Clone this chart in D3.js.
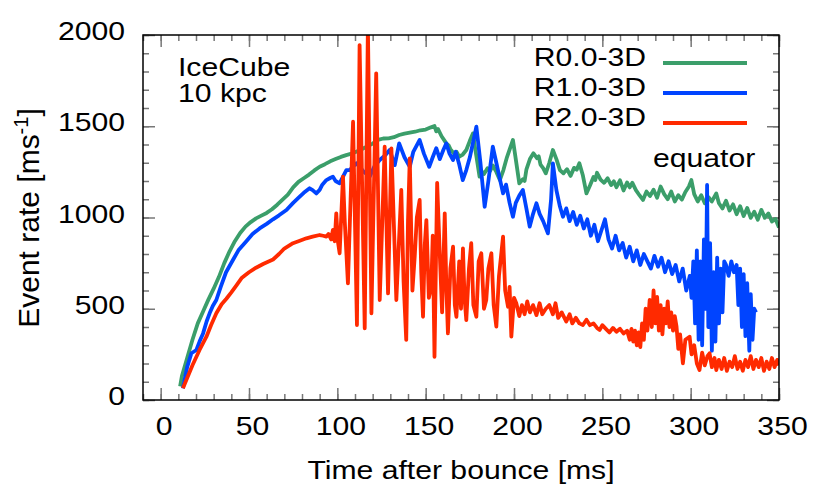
<!DOCTYPE html>
<html><head><meta charset="utf-8">
<script src="https://cdn.jsdelivr.net/npm/d3@7"></script>
<style>body{margin:0;background:#fff} text{font-family:"Liberation Sans",Arial,Helvetica,sans-serif;fill:#000}</style>
</head><body><svg id="c" width="830" height="498"></svg>
<script>
// ---- data (time after bounce [ms], event rate [ms^-1]) ----
const seriesR00 = [[11,75],[12,130],[15,230],[18,330],[21,420],[24,485],[27,550],[30,610],[33,675],[36,750],[39,815],[42,870],[45,915],[48,950],[51,975],[54,995],[57,1010],[60,1025],[63,1045],[66,1070],[69,1098],[72,1125],[75,1165],[78,1195],[81,1215],[84,1235],[87,1258],[90,1278],[93,1292],[96,1308],[99,1320],[102,1332],[105,1342],[108,1350],[111,1362],[114,1375],[117,1390],[120,1405],[123,1425],[126,1433],[129,1434],[132,1440],[135,1452],[138,1460],[141,1465],[144,1470],[147,1478],[150,1482],[153,1494],[155,1501],[156,1472],[157,1485],[159,1445],[161.7,1406],[163,1395],[164,1375],[166,1350],[167.5,1360],[169,1333],[171,1345],[173,1370],[175,1420],[176.8,1461],[178,1380],[180.5,1224],[182,1250],[183,1238],[185,1270],[186.5,1255],[188,1285],[190,1250],[192,1205],[194,1260],[196,1330],[199.4,1425],[201,1320],[203,1187],[205,1210],[206,1200],[207,1262],[209,1320],[211,1352],[213,1325],[214,1335],[215,1290],[216.5,1270],[218,1242],[220,1300],[222,1370],[224,1320],[226,1260],[228,1242],[230,1265],[232,1228],[234,1272],[235.5,1262],[237,1297],[239,1230],[241,1132],[243,1175],[245,1222],[246,1205],[247,1245],[249,1208],[251,1190],[253,1215],[255,1178],[256.5,1198],[258,1166],[260,1204],[262,1148],[264,1192],[265.5,1165],[267,1190],[269,1150],[271,1122],[273,1096],[275,1142],[277,1118],[279,1152],[281,1108],[283,1170],[285,1128],[287,1100],[289,1142],[291,1088],[293,1122],[295,1098],[297,1140],[299,1170],[300.4,1205],[302,1128],[304,1088],[306,1122],[308,1078],[310,1112],[312,1088],[314.5,1132],[316,1078],[318,1050],[320,1092],[322,1038],[324,1072],[326,1018],[328,1062],[330,1008],[332,1052],[334,998],[336,1032],[338,988],[340,1042],[342,998],[344,1022],[346,978],[348,992],[350,945]];

const seriesR10 = [[12.6,64],[15,180],[17.4,256],[20.2,274],[22,320],[24,365],[26,430],[27.7,475],[29.5,515],[31.5,548],[34,620],[37,700],[40.9,767],[44,820],[48.5,870],[52,910],[56,940],[60,965],[63.6,990],[67,1012],[71.2,1041],[75,1080],[78.7,1114],[81,1135],[84.3,1160],[86,1150],[88.1,1132],[90,1151],[91.5,1180],[93.8,1205],[95.7,1215],[97.5,1224],[99,1200],[101.3,1187],[103,1220],[105.1,1260],[107,1260],[109,1280],[110.8,1297],[112.6,1278],[115,1250],[118.3,1224],[121,1280],[124,1315],[127,1340],[129.6,1370],[132.5,1287],[135,1406],[138,1330],[141,1278],[143,1360],[146.6,1425],[149,1350],[152,1278],[154,1330],[156,1380],[158,1320],[160,1370],[161.7,1406],[163.5,1350],[165.5,1315],[167,1360],[169,1290],[171,1205],[173,1260],[175,1330],[177,1420],[178.7,1498],[181,1300],[183.4,1059],[185.5,1200],[188,1388],[190,1300],[191.8,1220],[193.8,1132],[195.5,1180],[197.5,1080],[199.4,1004],[201,1080],[203,1120],[205,1151],[207,1050],[208.9,950],[210.8,1020],[212.7,1078],[214.5,1020],[216.5,980],[219.2,913],[221,1100],[222,1297],[224,1150],[226,1060],[227.7,1004],[229.6,1050],[231.5,980],[233.5,1030],[235.5,960],[237.5,1010],[239.5,940],[241.5,990],[243.5,900],[245.5,960],[247.5,870],[249.5,930],[251.5,990],[253.5,880],[255.5,830],[257.5,900],[259.5,820],[261.5,860],[263.5,780],[265.5,840],[267.5,760],[269.5,820],[271.5,740],[273.5,800],[275.5,760],[277.5,720],[279.5,790],[281.5,730],[283.5,780],[285.5,700],[287.5,760],[289.5,690],[291.5,740],[293.5,650],[295.5,720],[297.5,600],[299.5,680],[300.5,560],[301.5,760],[302.5,420],[303.5,820],[304.5,330],[305.5,760],[306.5,300],[307.5,880],[308.5,500],[309.3,1178],[310,400],[311,860],[312,270],[313,700],[314,320],[315,780],[316,420],[317,720],[318,480],[319,760],[320,740],[321.5,680],[323,760],[324.5,700],[326,740],[327,520],[328,720],[329,400],[330,690],[331,350],[332,640],[333.2,270],[334,580],[335,330],[336,500],[337,480]];

const seriesR20 = [[12.6,64],[15,120],[18,190],[22,274],[25.9,347],[28.5,410],[31.5,475],[34.5,525],[37.2,555],[40,590],[43,630],[46,670],[50,700],[54,725],[58,745],[63.6,770],[67,800],[70,830],[74.9,859],[78,870],[82.5,886],[86,895],[90,904],[92,900],[93.8,895],[95,910],[96.5,880],[97.5,932],[98.5,870],[99.4,1023],[100.3,870],[101.3,804],[103.2,1224],[104.2,980],[106,639],[108.9,1525],[111.1,411],[112.6,1945],[115.5,393],[117.3,2050],[119.3,475],[122,1790],[124,548],[126.8,1388],[128.7,584],[130.6,1379],[133.4,548],[136.2,1151],[137.5,650],[139,329],[140,980],[141,1324],[142.5,600],[143.8,785],[145,1000],[146.6,1096],[147.5,700],[148.5,456],[149.5,850],[150.4,986],[151.8,560],[153.2,621],[154,900],[155,237],[156.5,1190],[157.9,822],[159.3,480],[160.8,1023],[161.7,620],[162.6,365],[164,720],[165.5,840],[166.5,520],[167.4,456],[169,760],[170,500],[171.1,831],[172,560],[173,438],[174.5,720],[175.8,859],[177,520],[178.7,456],[180,760],[181.5,804],[183,500],[184.3,548],[185.5,720],[187.2,804],[188.5,520],[190,402],[191.5,680],[193.8,895],[195,600],[196.6,511],[197.5,620],[198.5,347],[200,560],[201.3,530],[203,460],[204.5,520],[206,470],[207.5,540],[209,480],[210.8,520],[212.7,465],[214.5,530],[216,470],[218,500],[220,520],[222,470],[223.5,530],[225,450],[227,480],[229.6,430],[231.5,470],[233,420],[235,450],[237,420],[239,411],[241,440],[243,410],[245,420],[247,395],[248.5,384],[250,410],[252,390],[254,370],[256,395],[258,374],[260,390],[262,365],[264,380],[265.5,330],[266.5,390],[267.5,320],[268.5,380],[269.5,300],[270.5,370],[271.5,290],[272.5,420],[273.5,330],[274.5,500],[275.5,380],[276.8,548],[278,400],[279,600],[280,420],[281,565],[282,380],[283,520],[284,360],[285,500],[286,420],[287,540],[288,400],[289,480],[290,380],[291,460],[292,402],[293,280],[294,360],[295.6,201],[297,330],[299.4,347],[300.5,250],[302,300],[303.5,200],[305,164],[306.5,260],[308,190],[309.5,240],[310.7,256],[312,180],[313.5,230],[314.5,164],[316,220],[317.5,170],[319,230],[320.5,160],[322,210],[323.5,180],[325,240],[326.5,170],[328,210],[329.5,160],[331,220],[332.5,180],[334,240],[335.5,170],[337,220],[338.5,180],[340,230],[341.5,160],[343,210],[344.5,170],[346,230],[347.5,180],[349,220],[350,190]];

const seriesNames = ["R0.0-3D","R1.0-3D","R2.0-3D"];
const xTickLabels = [0,50,100,150,200,250,300,350];
const yTickLabels = [0,500,1000,1500,2000];
const xMinorTicks = d3.range(-10,351,10);
const yMinorTicks = d3.range(0,2001,100);

// ---- styles / layout ----
const colors = ["#3b9e6a","#0044ff","#ff2a00"];
const L=143,R=779,T=35,B=400;
const SX=1.16, FS=26;

const svg = d3.select("#c");
const x = d3.scaleLinear().domain([-10,350]).range([L,R]);
const y = d3.scaleLinear().domain([0,2000]).range([B,T]);

function txt(g,px,py,s,anchor){
  return g.append("text").attr("transform",`translate(${px},${py}) scale(${SX},1)`)
    .attr("text-anchor",anchor).style("font-size",FS+"px").text(s);
}

// ticks (inward, all four sides)
function styleAxis(g){ g.select(".domain").remove(); g.selectAll(".tick line").attr("stroke","#777").attr("stroke-width",1.5); g.selectAll(".tick text").remove(); }
svg.append("g").attr("transform",`translate(0,${B})`).call(d3.axisBottom(x).tickValues(xMinorTicks).tickSize(-6)).call(styleAxis);
svg.append("g").attr("transform",`translate(0,${B})`).call(d3.axisBottom(x).tickValues(xTickLabels).tickSize(-12)).call(styleAxis);
svg.append("g").attr("transform",`translate(0,${T})`).call(d3.axisTop(x).tickValues(xMinorTicks).tickSize(-6)).call(styleAxis);
svg.append("g").attr("transform",`translate(0,${T})`).call(d3.axisTop(x).tickValues(xTickLabels).tickSize(-12)).call(styleAxis);
svg.append("g").attr("transform",`translate(${L},0)`).call(d3.axisLeft(y).tickValues(yMinorTicks).tickSize(-6)).call(styleAxis);
svg.append("g").attr("transform",`translate(${L},0)`).call(d3.axisLeft(y).tickValues(yTickLabels).tickSize(-12)).call(styleAxis);
svg.append("g").attr("transform",`translate(${R},0)`).call(d3.axisRight(y).tickValues(yMinorTicks).tickSize(-6)).call(styleAxis);
svg.append("g").attr("transform",`translate(${R},0)`).call(d3.axisRight(y).tickValues(yTickLabels).tickSize(-12)).call(styleAxis);

// clip
svg.append("clipPath").attr("id","clip").append("rect").attr("x",L).attr("y",T).attr("width",R-L).attr("height",B-T);

const line = d3.line().x(d=>x(d[0])).y(d=>y(d[1]));
const gl = svg.append("g").attr("clip-path","url(#clip)");
[seriesR00,seriesR10,seriesR20].forEach((s,i)=>{
  gl.append("path").datum(s).attr("d",line).attr("fill","none").attr("stroke",colors[i])
    .attr("stroke-width",3.8).attr("stroke-linejoin","round").attr("stroke-linecap","butt");
});

// frame
svg.append("rect").attr("x",L).attr("y",T).attr("width",R-L).attr("height",B-T).attr("fill","none").attr("stroke","#000").attr("stroke-width",1.5);

// tick labels
const lab = svg.append("g");
xTickLabels.forEach(v=>txt(lab,x(v)+3.5,435,String(v),"middle"));
yTickLabels.forEach(v=>txt(lab,125,y(v)+5,String(v),"end"));

// axis titles
txt(lab,(L+R)/2,479,"Time after bounce [ms]","middle");
const yt = lab.append("text").attr("transform","translate(39,218) rotate(-90)").attr("text-anchor","middle").style("font-size","30px");
yt.append("tspan").text("Event rate [ms");
yt.append("tspan").attr("dy",-11).style("font-size","20px").text("-1");
yt.append("tspan").attr("dy",11).text("]");

// annotations
txt(lab,178,76,"IceCube","start");
txt(lab,178,102,"10 kpc","start");
txt(lab,653,167,"equator","start");

// legend
const legBase=[66,96,126];
seriesNames.forEach((n,i)=>{
  txt(lab,646,legBase[i],n,"end");
  svg.append("line").attr("x1",663).attr("x2",747).attr("y1",legBase[i]-3).attr("y2",legBase[i]-3)
    .attr("stroke",colors[i]).attr("stroke-width",3.8);
});
</script></body></html>
